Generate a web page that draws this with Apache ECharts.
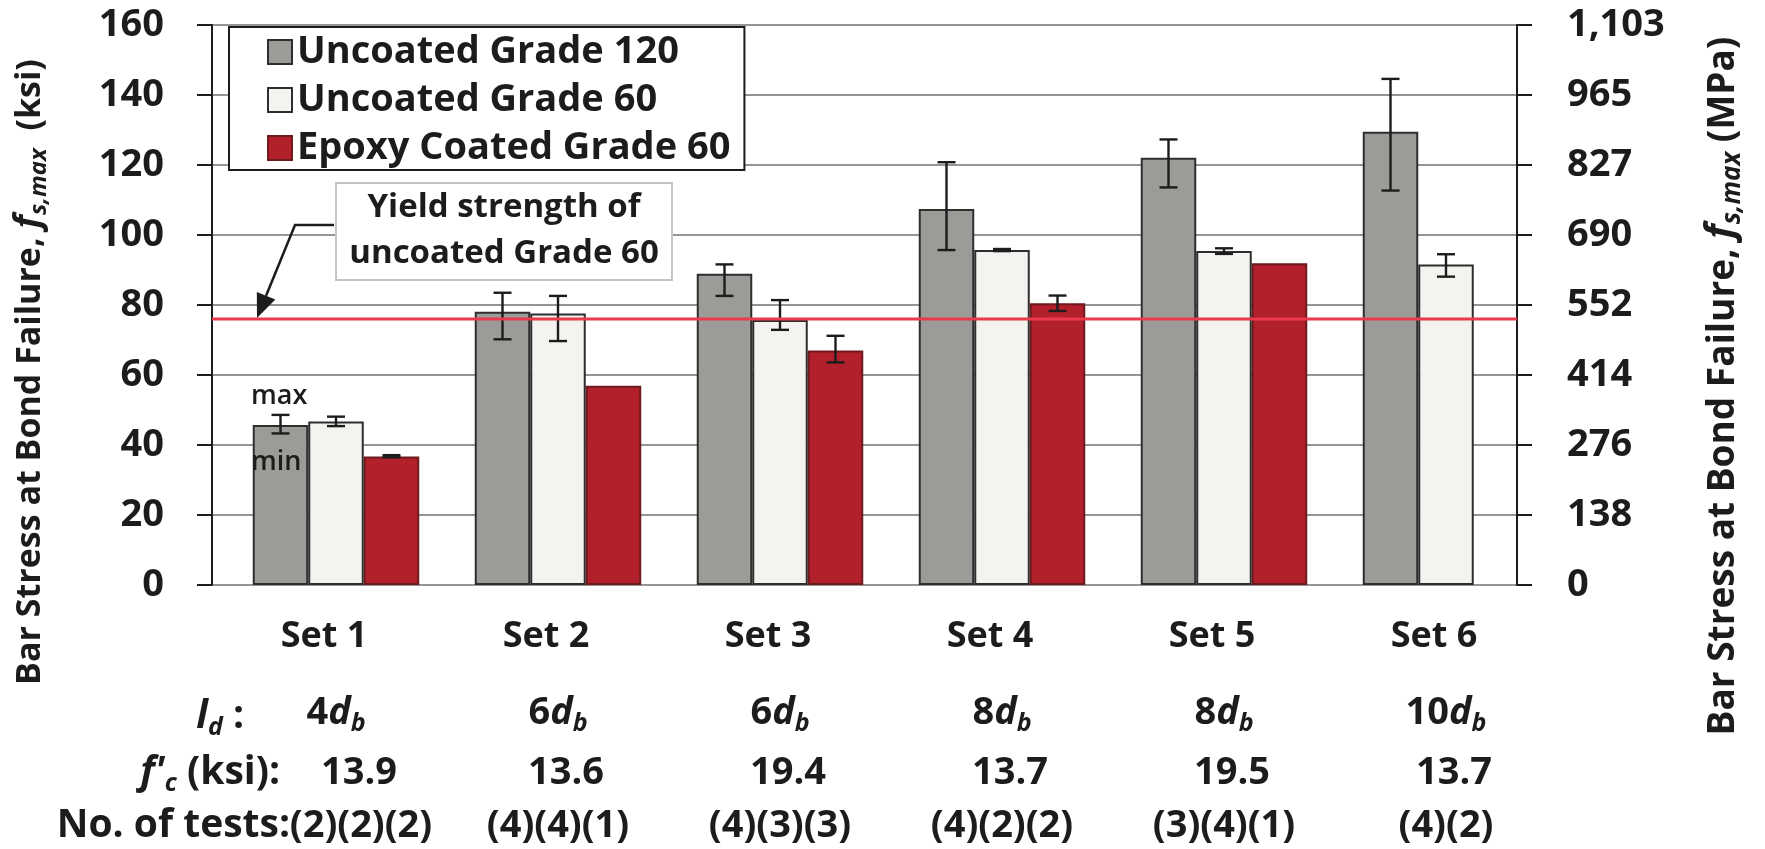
<!DOCTYPE html>
<html>
<head>
<meta charset="utf-8">
<script src="https://cdn.jsdelivr.net/npm/echarts@6/dist/echarts.min.js"></script>
<style>
  html, body { margin: 0; padding: 0; background: #ffffff; }
  #chart { width: 1765px; height: 849px; }
</style>
</head>
<body>
<div id="chart"></div>
<script>
// ---- data -------------------------------------------------------------
const sets = ['Set 1', 'Set 2', 'Set 3', 'Set 4', 'Set 5', 'Set 6'];
const embedLength = ['4', '6', '6', '8', '8', '10'];          // l_d in multiples of d_b
const concreteStrength = ['13.9', '13.6', '19.4', '13.7', '19.5', '13.7']; // f'c, ksi
const testCounts = ['(2)(2)(2)', '(4)(4)(1)', '(4)(3)(3)', '(4)(2)(2)', '(3)(4)(1)', '(4)(2)'];

const grade120Mean = [45.7, 78.1, 88.9, 107.4, 122.1, 129.5];
const grade120Min  = [43.3, 70.2, 82.6, 95.7, 113.6, 112.7];
const grade120Max  = [48.6, 83.5, 91.6, 120.8, 127.3, 144.6];

const grade60Mean = [46.7, 77.6, 75.7, 95.7, 95.4, 91.6];
const grade60Min  = [45.4, 69.7, 72.9, 95.4, 94.6, 88.1];
const grade60Max  = [48.1, 82.6, 81.4, 96.0, 96.2, 94.5];

const epoxyMean = [36.7, 56.9, 67.0, 80.5, 91.9, null];
const epoxyMin  = [36.5, null, 63.6, 78.3, null, null];
const epoxyMax  = [37.1, null, 71.2, 82.7, null, null];

const yieldGrade60 = 76; // ksi

const ksiTickLabels = ['0', '20', '40', '60', '80', '100', '120', '140', '160'];
const mpaTickLabels = ['0', '138', '276', '414', '552', '690', '827', '965', '1,103'];

// ---- styling ------------------------------------------------------------
const FONT = '"Open Sans", "Liberation Sans", sans-serif';
const INK = '#1c1c1c';
const GREY = '#9b9c98';
const LIGHT = '#f3f3ef';
const RED = '#b2212b';

const chart = echarts.init(document.getElementById('chart'), null, { renderer: 'canvas' });

const base = { fontFamily: FONT, fontWeight: 'bold', color: INK };
const richRow = {
  n: Object.assign({}, base, { fontSize: 38, verticalAlign: 'bottom', padding: [0, 0, 4, 0] }),
  i: Object.assign({}, base, { fontSize: 38, fontStyle: 'italic', verticalAlign: 'bottom', padding: [0, 0, 4, 0] }),
  s: Object.assign({}, base, { fontSize: 25, fontStyle: 'italic', verticalAlign: 'bottom' }),
  first: Object.assign({}, base, { fontSize: 38, verticalAlign: 'bottom', padding: [0, 0, 4, 50] }),
  fc: Object.assign({}, base, { fontSize: 38, verticalAlign: 'bottom', padding: [0, 0, 4, 16] }),
  fc0: Object.assign({}, base, { fontSize: 38, verticalAlign: 'bottom', padding: [0, 0, 4, 46] })
};

// error bar (min / max whiskers) drawn over bar slot `slot` of each group
function whiskers(name, lows, highs, slot) {
  const data = [];
  lows.forEach((lo, i) => { if (lo != null && highs[i] != null) data.push([i, lo, highs[i]]); });
  return {
    name: name + ' range',
    type: 'custom',
    xAxisIndex: 1,
    yAxisIndex: 2,
    z: 6,
    silent: true,
    data: data,
    encode: { x: 0, y: [1, 2] },
    renderItem: function (params, api) {
      const idx = api.value(0);
      const lo = api.coord([idx, api.value(1)]);
      const hi = api.coord([idx, api.value(2)]);
      const band = api.size([1, 0])[0];
      const x = lo[0] + (slot - 1) * band * 0.25;
      const cap = 9;
      const st = { stroke: INK, lineWidth: 2.4 };
      return {
        type: 'group',
        children: [
          { type: 'line', shape: { x1: x, y1: lo[1], x2: x, y2: hi[1] }, style: st },
          { type: 'line', shape: { x1: x - cap, y1: lo[1], x2: x + cap, y2: lo[1] }, style: st },
          { type: 'line', shape: { x1: x - cap, y1: hi[1], x2: x + cap, y2: hi[1] }, style: st }
        ]
      };
    }
  };
}

function rowAxis(data, margin, formatter) {
  return {
    gridIndex: 1, type: 'category', position: 'bottom', data: data,
    axisLine: { show: false }, axisTick: { show: false },
    axisLabel: { interval: 0, margin: margin, formatter: formatter, rich: richRow }
  };
}

const option = {
  backgroundColor: '#ffffff',
  animation: false,
  textStyle: { fontFamily: FONT },
  grid: [
    // plot frame with both stress scales
    { left: 212, top: 25, width: 1305, height: 560, show: true, borderColor: INK, borderWidth: 2, backgroundColor: 'transparent' },
    // bar groups
    { left: 225, top: 25, width: 1332, height: 560 }
  ],
  xAxis: [
    { gridIndex: 0, type: 'value', min: 0, max: 1, show: false },
    {
      gridIndex: 1, type: 'category', position: 'bottom', data: sets,
      axisLine: { show: false }, axisTick: { show: false },
      axisLabel: { interval: 0, margin: 34, fontFamily: FONT, fontWeight: 'bold', fontSize: 36, color: INK, padding: [0, 24, 0, 0] }
    },
    rowAxis(embedLength, 109, v => '{n|' + v + '}{i|d}{s|b}'),
    rowAxis(concreteStrength, 169, (v, i) => (i === 0 ? '{fc0|' : '{fc|') + v + '}'),
    rowAxis(testCounts, 222, (v, i) => (i === 0 ? '{first|' : '{n|') + v + '}')
  ],
  yAxis: [
    {
      gridIndex: 0, type: 'value', position: 'left', min: 0, max: 160, interval: 20,
      axisLine: { show: true, lineStyle: { color: INK, width: 2 } },
      axisTick: { show: true, inside: false, length: 15, lineStyle: { color: INK, width: 2 } },
      splitLine: { show: true, lineStyle: { color: '#959595', width: 2 } },
      axisLabel: {
        margin: 48, fontFamily: FONT, fontWeight: 'bold', fontSize: 38, color: INK,
        formatter: v => ksiTickLabels[Math.round(v / 20)]
      }
    },
    {
      gridIndex: 0, type: 'value', position: 'right', min: 0, max: 160, interval: 20,
      axisLine: { show: true, lineStyle: { color: INK, width: 2 } },
      axisTick: { show: true, inside: false, length: 15, lineStyle: { color: INK, width: 2 } },
      splitLine: { show: false },
      axisLabel: {
        margin: 50, fontFamily: FONT, fontWeight: 'bold', fontSize: 38, color: INK,
        formatter: v => mpaTickLabels[Math.round(v / 20)]
      }
    },
    { gridIndex: 1, type: 'value', min: 0, max: 160, interval: 20, show: false }
  ],
  legend: {
    data: ['Uncoated Grade 120', 'Uncoated Grade 60', 'Epoxy Coated Grade 60'],
    orient: 'vertical',
    left: 229, top: 27,
    padding: [5, 14, 2, 38],
    itemWidth: 24, itemHeight: 24, itemGap: 8,
    icon: 'rect',
    backgroundColor: '#ffffff',
    borderColor: INK, borderWidth: 2, borderRadius: 0,
    selectedMode: false,
    textStyle: { fontFamily: FONT, fontWeight: 'bold', fontSize: 38, lineHeight: 40, color: INK }
  },
  series: [
    {
      name: 'Uncoated Grade 120', type: 'bar', xAxisIndex: 1, yAxisIndex: 2,
      data: grade120Mean, barCategoryGap: '25%', barGap: '0%',
      itemStyle: { color: GREY, borderColor: '#2e2e2e', borderWidth: 2 }
    },
    {
      name: 'Uncoated Grade 60', type: 'bar', xAxisIndex: 1, yAxisIndex: 2,
      data: grade60Mean, barCategoryGap: '25%', barGap: '0%',
      itemStyle: { color: LIGHT, borderColor: '#2e2e2e', borderWidth: 2 }
    },
    {
      name: 'Epoxy Coated Grade 60', type: 'bar', xAxisIndex: 1, yAxisIndex: 2,
      data: epoxyMean, barCategoryGap: '25%', barGap: '0%',
      itemStyle: { color: RED, borderColor: '#6e1a1e', borderWidth: 2 }
    },
    whiskers('Uncoated Grade 120', grade120Min, grade120Max, 0),
    whiskers('Uncoated Grade 60', grade60Min, grade60Max, 1),
    whiskers('Epoxy Coated Grade 60', epoxyMin, epoxyMax, 2),
    {
      name: 'Yield strength of uncoated Grade 60', type: 'line', xAxisIndex: 0, yAxisIndex: 0,
      data: [[0, yieldGrade60], [1, yieldGrade60]],
      symbol: 'none', z: 7, silent: true,
      lineStyle: { color: '#ec3a4c', width: 3 }
    }
  ]
};

chart.setOption(option);

// ---- annotations and titles ------------------------------------------
const yieldY = chart.convertToPixel({ yAxisIndex: 0 }, yieldGrade60);
const tip = [257, yieldY - 1];
const elbow = [295, 225];
const dx = tip[0] - elbow[0], dy = tip[1] - elbow[1];
const len = Math.sqrt(dx * dx + dy * dy);
const ux = dx / len, uy = dy / len;
const headLen = 24, headHalf = 10;
const baseC = [tip[0] - ux * headLen, tip[1] - uy * headLen];
const head = [tip, [baseC[0] - uy * headHalf, baseC[1] + ux * headHalf], [baseC[0] + uy * headHalf, baseC[1] - ux * headHalf]];

function titleRich(size) {
  return {
    n: { fontFamily: FONT, fontWeight: 'bold', fontSize: size, fill: INK, verticalAlign: 'bottom', padding: [0, 0, 4, 0] },
    f: { fontFamily: FONT, fontWeight: 'bold', fontStyle: 'italic', fontSize: size + 2, fill: INK, verticalAlign: 'bottom', padding: [0, 0, 4, 0] },
    s: { fontFamily: FONT, fontWeight: 'bold', fontStyle: 'italic', fontSize: Math.round(size * 0.7), fill: INK, verticalAlign: 'bottom' }
  };
}
const headRich = {
  n: { fontFamily: FONT, fontWeight: 'bold', fontSize: 39, fill: INK, verticalAlign: 'bottom', padding: [0, 0, 4, 0] },
  i: { fontFamily: FONT, fontWeight: 'bold', fontStyle: 'italic', fontSize: 39, fill: INK, verticalAlign: 'bottom', padding: [0, 0, 4, 0] },
  s: { fontFamily: FONT, fontWeight: 'bold', fontStyle: 'italic', fontSize: 25, fill: INK, verticalAlign: 'bottom' }
};

chart.setOption({
  graphic: [
    // callout box
    { type: 'rect', z: 20, shape: { x: 336, y: 183, width: 336, height: 97 },
      style: { fill: '#ffffff', stroke: '#c4c4c4', lineWidth: 2 } },
    { type: 'text', z: 21, x: 504, y: 208,
      style: { text: 'Yield strength of', font: 'bold 33px ' + FONT, fill: INK, align: 'center', verticalAlign: 'middle' } },
    { type: 'text', z: 21, x: 504, y: 254,
      style: { text: 'uncoated Grade 60', font: 'bold 33px ' + FONT, fill: INK, align: 'center', verticalAlign: 'middle' } },
    { type: 'polyline', z: 20, shape: { points: [[334, 225], elbow, baseC] },
      style: { stroke: INK, lineWidth: 2.5, fill: null } },
    { type: 'polygon', z: 20, shape: { points: head }, style: { fill: INK } },

    // range markers on the first group
    { type: 'text', z: 21, x: 251, y: 396,
      style: { text: 'max', font: '600 27px ' + FONT, fill: INK, align: 'left', verticalAlign: 'middle' } },
    { type: 'text', z: 21, x: 251, y: 462,
      style: { text: 'min', font: '600 27px ' + FONT, fill: INK, align: 'left', verticalAlign: 'middle' } },

    // axis titles
    { type: 'text', x: 31, y: 372, rotation: Math.PI / 2,
      style: { text: '{n|Bar Stress at Bond Failure, }{f|f}{s|s,max}{n|  (ksi)}', rich: titleRich(34), align: 'center', verticalAlign: 'middle' } },
    { type: 'text', x: 1724, y: 386, rotation: Math.PI / 2,
      style: { text: '{n|Bar Stress at Bond Failure, }{f|f}{s|s,max}{n| (MPa)}', rich: titleRich(37), align: 'center', verticalAlign: 'middle' } },

    // row headings under the sets
    { type: 'text', x: 244, y: 719,
      style: { text: '{i|l}{s|d}{n| :}', rich: headRich, align: 'right', verticalAlign: 'middle' } },
    { type: 'text', x: 280, y: 775,
      style: { text: "{i|f'}{s|c}{n| (ksi):}", rich: headRich, align: 'right', verticalAlign: 'middle' } },
    { type: 'text', x: 290, y: 828,
      style: { text: '{n|No. of tests:}', rich: headRich, align: 'right', verticalAlign: 'middle' } }
  ]
});
</script>
</body>
</html>
